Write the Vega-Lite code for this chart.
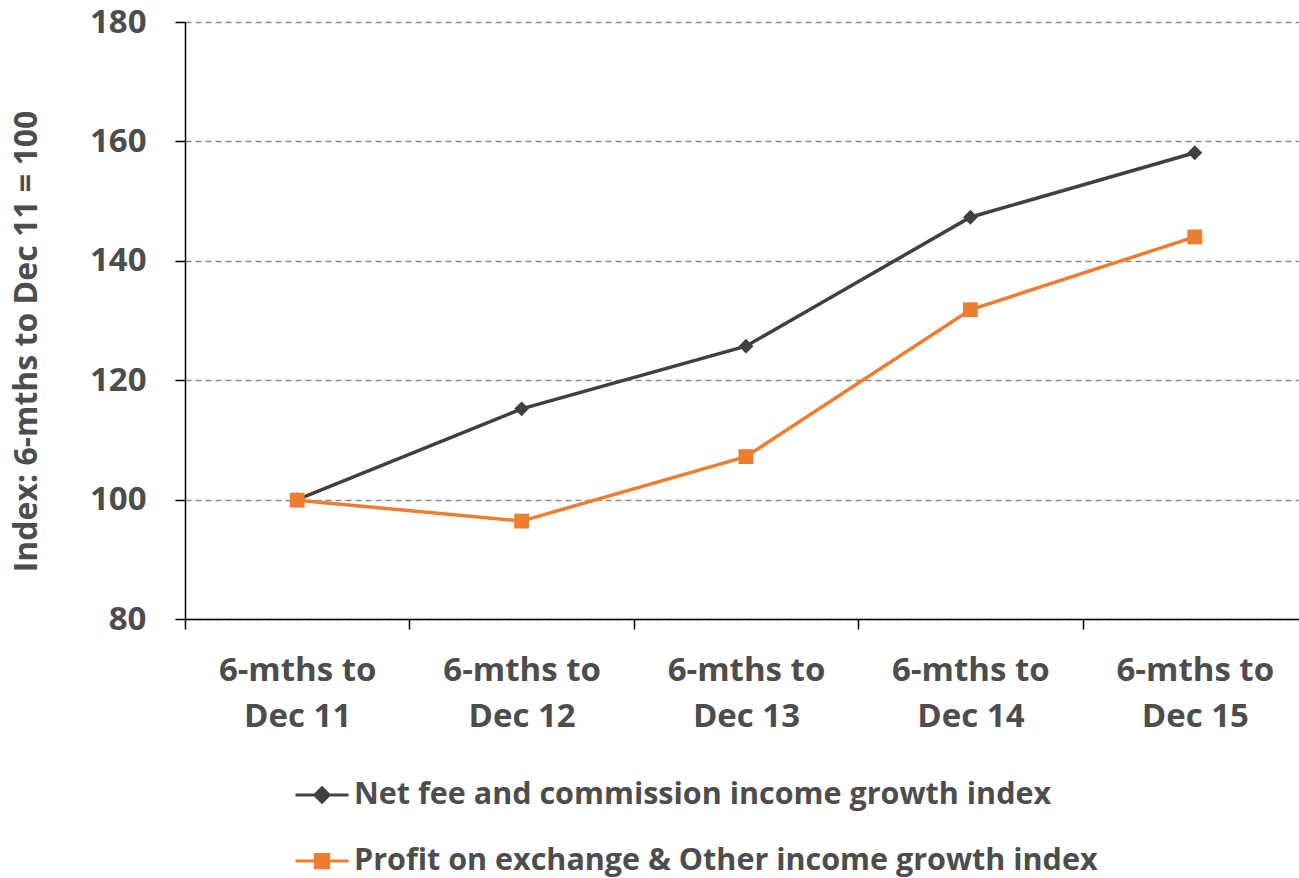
{
  "$schema": "https://vega.github.io/schema/vega-lite/v6.json",
  "width": 1122,
  "height": 597,
  "autosize": "none",
  "padding": {"left": 185, "top": 22, "right": 0, "bottom": 259},
  "background": "white",
  "data": {
    "values": [
      {"period": "6-mths to Dec 11", "series": "Net fee and commission income growth index", "value": 100.0},
      {"period": "6-mths to Dec 12", "series": "Net fee and commission income growth index", "value": 115.2},
      {"period": "6-mths to Dec 13", "series": "Net fee and commission income growth index", "value": 125.7},
      {"period": "6-mths to Dec 14", "series": "Net fee and commission income growth index", "value": 147.3},
      {"period": "6-mths to Dec 15", "series": "Net fee and commission income growth index", "value": 158.1},
      {"period": "6-mths to Dec 11", "series": "Profit on exchange & Other income growth index", "value": 99.9},
      {"period": "6-mths to Dec 12", "series": "Profit on exchange & Other income growth index", "value": 96.4},
      {"period": "6-mths to Dec 13", "series": "Profit on exchange & Other income growth index", "value": 107.2},
      {"period": "6-mths to Dec 14", "series": "Profit on exchange & Other income growth index", "value": 131.8},
      {"period": "6-mths to Dec 15", "series": "Profit on exchange & Other income growth index", "value": 144.0}
    ]
  },
  "config": {
    "view": {"stroke": null},
    "font": "Open Sans",
    "axis": {
      "labelFont": "Open Sans",
      "labelFontWeight": "bold",
      "labelFontSize": 33,
      "labelColor": "#4d4d4d",
      "titleFont": "Open Sans",
      "titleFontWeight": "bold",
      "titleFontSize": 32,
      "titleColor": "#4d4d4d",
      "domainColor": "#000000",
      "domainWidth": 1.5,
      "tickColor": "#000000",
      "tickWidth": 1.5,
      "tickSize": 10
    }
  },
  "encoding": {
    "x": {
      "field": "period",
      "type": "nominal",
      "sort": null,
      "scale": {"paddingInner": 0, "paddingOuter": 0},
      "axis": {
        "title": null,
        "labelAngle": 0,
        "tickBand": "extent",
        "grid": false,
        "labelExpr": "length(datum.label) > 10 ? ['6-mths to', substring(datum.label, 10)] : ''",
        "labelLineHeight": 46,
        "labelPadding": 25,
        "labelBaseline": "top"
      }
    },
    "y": {
      "field": "value",
      "type": "quantitative",
      "scale": {"domain": [80, 180], "nice": false, "zero": false},
      "axis": {
        "title": "Index: 6-mths to Dec 11 = 100",
        "values": [80, 100, 120, 140, 160, 180],
        "grid": true,
        "gridColor": "#8c8c8c",
        "gridDash": [6, 4],
        "gridWidth": 1.3,
        "labelPadding": 29,
        "titlePadding": 46,
        "titleY": 319
      }
    },
    "color": {
      "field": "series",
      "type": "nominal",
      "sort": null,
      "scale": {"range": ["#404040", "#ED7D31"]},
      "legend": {
        "title": null,
        "orient": "none",
        "legendX": 109,
        "legendY": 745,
        "direction": "vertical",
        "padding": 0,
        "labelFont": "Open Sans",
        "labelFontWeight": "bold",
        "labelFontSize": 30.5,
        "labelColor": "#4d4d4d",
        "labelLimit": 1000,
        "labelOffset": 4,
        "rowPadding": 22,
        "symbolSize": 2809,
        "symbolStrokeWidth": 3,
        "encode": {
          "symbols": {
            "update": {
              "shape": {"signal": "datum.value === 'Net fee and commission income growth index' ? 'M-1,0H1M0,-0.27L0.27,0L0,0.27L-0.27,0Z' : 'M-1,0H1M-0.25,-0.25H0.25V0.25H-0.25Z'"},
              "fill": {"signal": "datum.value === 'Net fee and commission income growth index' ? '#404040' : '#ED7D31'"},
              "stroke": {"signal": "datum.value === 'Net fee and commission income growth index' ? '#404040' : '#ED7D31'"},
              "strokeWidth": {"value": 3},
              "size": {"value": 2809},
              "opacity": {"value": 1},
              "fillOpacity": {"value": 1},
              "strokeOpacity": {"value": 1}
            }
          }
        }
      }
    }
  },
  "layer": [
    {
      "mark": {"type": "line", "strokeWidth": 3.5}
    },
    {
      "mark": {"type": "point", "filled": true, "opacity": 1, "size": 220},
      "encoding": {
        "shape": {
          "field": "series",
          "type": "nominal",
          "sort": null,
          "scale": {"range": ["diamond", "square"]},
          "legend": null
        }
      }
    }
  ]
}
